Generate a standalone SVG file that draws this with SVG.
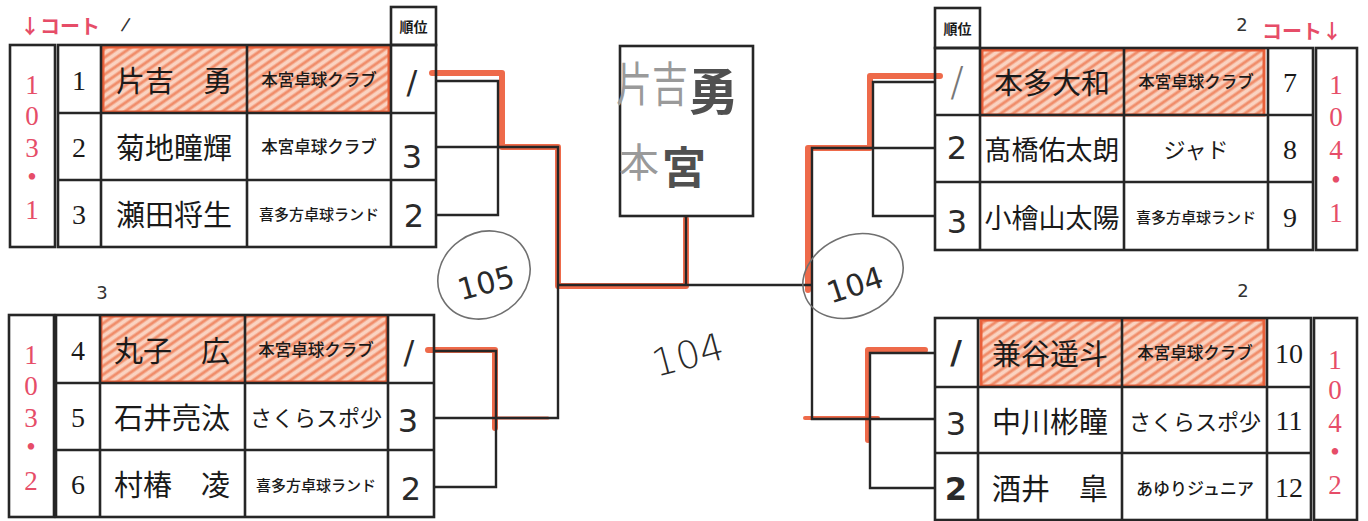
<svg xmlns="http://www.w3.org/2000/svg" width="1368" height="521" viewBox="0 0 1368 521">
<defs>
<pattern id="hatch" width="7" height="7" patternUnits="userSpaceOnUse" patternTransform="rotate(-35)">
<rect width="7" height="7" fill="#fad3c1"/>
<line x1="0" y1="2" x2="7" y2="2" stroke="#f08d6a" stroke-width="3"/>
</pattern>
<style>
.grid{fill:none;stroke:#262626;stroke-width:2.6}
.hl{fill:url(#hatch);stroke:#e9603a;stroke-width:3}
.red{fill:none;stroke:#ec5a36;stroke-width:6;stroke-linecap:round;stroke-linejoin:round;opacity:.9}
.blk{fill:none;stroke:#262626;stroke-width:2.4}
.court{font-family:"Liberation Serif",serif;font-size:27px;fill:#e64d68;text-anchor:middle;dominant-baseline:central}
.num{font-family:"Liberation Serif",serif;font-size:28px;fill:#1a1a1a;text-anchor:middle;dominant-baseline:central}
.name{font-family:"Noto Sans CJK JP",sans-serif;font-size:29px;fill:#1a1a1a;text-anchor:middle;dominant-baseline:central}
.club{font-family:"Noto Sans CJK JP",sans-serif;font-size:16.5px;font-weight:500;fill:#1a1a1a;text-anchor:middle;dominant-baseline:central}
.club2{font-family:"Noto Sans CJK JP",sans-serif;font-size:22px;fill:#1a1a1a;text-anchor:middle;dominant-baseline:central}
.hdr{font-family:"Noto Sans CJK JP",sans-serif;font-size:14px;font-weight:bold;fill:#1a1a1a;text-anchor:middle;dominant-baseline:central}
.hand{font-family:"DejaVu Sans",sans-serif;font-size:32px;fill:#2a2a2a;text-anchor:middle;dominant-baseline:central}
.small{font-family:"DejaVu Sans",sans-serif;font-size:18px;fill:#333;text-anchor:middle;dominant-baseline:central}
.lbl{font-family:"Noto Sans CJK JP",sans-serif;font-size:20px;font-weight:bold;fill:#e64d68;dominant-baseline:central}
.ring{fill:none;stroke:#707070;stroke-width:1.6}
</style>
</defs>
<rect width="1368" height="521" fill="#ffffff"/>

<g id="connectors">
<path class="red" d="M432,73 H502 V147 H558 V286 H686 V219"/>
<path class="red" d="M428,350 H495 V428"/>
<path class="red" d="M496,418 H548" style="stroke-width:3"/>
<path class="red" d="M940,76 H870 V148 H808 V290"/>
<path class="red" d="M925,350 H868 V440"/>
<path class="red" d="M805,418 H878" style="stroke-width:4"/>
<path class="blk" d="M436,81 H498 V215 H436"/>
<path class="blk" d="M436,147 H558 V418 H434"/>
<path class="blk" d="M434,351 H496 V487 H434"/>
<path class="blk" d="M558,285 H812"/>
<path class="blk" d="M686,217 V285"/>
<path class="blk" d="M935,82 H873 V216 H935"/>
<path class="blk" d="M935,148 H812 V419 H935"/>
<path class="blk" d="M935,353 H870 V488 H935"/>
</g>

<g id="block-103-1">
<text class="lbl" x="20" y="25">↓コート</text>
<text class="small" x="126" y="24" transform="rotate(15 126 24)">/</text>
<rect class="grid" x="391" y="7" width="45" height="38"/>
<text class="hdr" x="413.5" y="26">順位</text>
<rect class="hl" x="103" y="47" width="286" height="65"/>
<rect class="grid" x="10" y="45" width="45" height="202"/>
<rect class="grid" x="58" y="45" width="378" height="202"/>
<path class="grid" d="M101,45 V247 M247,45 V247 M391,45 V247 M58,113 H436 M58,180 H436"/>
<text class="court" x="32" y="85">1</text>
<text class="court" x="32" y="116">0</text>
<text class="court" x="32" y="148">3</text>
<text class="court" x="32" y="177">•</text>
<text class="court" x="32" y="210">1</text>
<text class="num" x="79" y="80">1</text>
<text class="num" x="79" y="147">2</text>
<text class="num" x="79" y="214">3</text>
<text class="name" x="174" y="79">片吉　勇</text>
<text class="name" x="174" y="146">菊地瞳輝</text>
<text class="name" x="174" y="213">瀬田将生</text>
<text class="club" x="319" y="79">本宮卓球クラブ</text>
<text class="club" x="319" y="146">本宮卓球クラブ</text>
<text class="club" x="319" y="213" style="font-size:15px">喜多方卓球ランド</text>
<text class="hand" x="412" y="82">/</text>
<text class="hand" x="412" y="157">3</text>
<text class="hand" x="414" y="216">2</text>
</g>

<g id="block-103-2">
<text class="small" x="102" y="292">3</text>
<rect class="hl" x="101" y="316" width="286" height="66"/>
<rect class="grid" x="9" y="315" width="45" height="202"/>
<rect class="grid" x="56" y="315" width="378" height="202"/>
<path class="grid" d="M100,315 V517 M245,315 V517 M388,315 V517 M56,383 H434 M56,450 H434"/>
<text class="court" x="31" y="355">1</text>
<text class="court" x="31" y="386">0</text>
<text class="court" x="31" y="418">3</text>
<text class="court" x="31" y="447">•</text>
<text class="court" x="31" y="481">2</text>
<text class="num" x="78" y="350">4</text>
<text class="num" x="78" y="417">5</text>
<text class="num" x="78" y="484">6</text>
<text class="name" x="172" y="349">丸子　広</text>
<text class="name" x="172" y="416">石井亮汰</text>
<text class="name" x="172" y="483">村椿　凌</text>
<text class="club" x="316" y="349">本宮卓球クラブ</text>
<text class="club2" x="316" y="416">さくらスポ少</text>
<text class="club" x="316" y="484" style="font-size:15px">喜多方卓球ランド</text>
<text class="hand" x="409" y="352">/</text>
<text class="hand" x="408" y="421">3</text>
<text class="hand" x="411" y="489">2</text>
</g>

<g id="winner">
<rect class="grid" x="620" y="46" width="133" height="170"/>
<text x="652" y="80" style="font-family:'Noto Sans CJK JP',sans-serif;font-size:36px;fill:#9a9a9a;text-anchor:middle;dominant-baseline:central" transform="scale(1 1.3) translate(0 -18)">片吉</text>
<text x="713" y="88" style="font-family:'Noto Sans CJK JP',sans-serif;font-size:50px;font-weight:bold;fill:#505050;text-anchor:middle;dominant-baseline:central">勇</text>
<text x="639" y="160" style="font-family:'Noto Sans CJK JP',sans-serif;font-size:40px;fill:#9a9a9a;text-anchor:middle;dominant-baseline:central">本</text>
<text x="684" y="165" style="font-family:'Noto Sans CJK JP',sans-serif;font-size:44px;font-weight:bold;fill:#505050;text-anchor:middle;dominant-baseline:central">宮</text>
</g>

<g id="match-105">
<ellipse class="ring" cx="484" cy="275" rx="48" ry="42" transform="rotate(-35 484 275)"/>
<text class="hand" x="486" y="283" transform="rotate(-15 486 283)" style="font-size:30px">105</text>
</g>

<g id="match-104-final">
<text class="hand" x="688" y="355" transform="rotate(-15 688 355)" style="font-size:38px;font-weight:200">104</text>
</g>

<g id="match-104">
<ellipse class="ring" cx="853" cy="276" rx="52" ry="40" transform="rotate(-25 853 276)"/>
<text class="hand" x="855" y="285" transform="rotate(-18 855 285)" style="font-size:30px">104</text>
</g>

<g id="block-104-1">
<text class="small" x="1242" y="24">2</text>
<text class="lbl" x="1262" y="30">コート↓</text>
<rect class="grid" x="935" y="8" width="45" height="40"/>
<text class="hdr" x="957.5" y="28">順位</text>
<rect class="hl" x="982" y="50" width="282" height="65"/>
<rect class="grid" x="935" y="48" width="378" height="202"/>
<rect class="grid" x="1316" y="48" width="41" height="202"/>
<path class="grid" d="M980,48 V250 M1124,48 V250 M1268,48 V250 M935,115 H1313 M935,182 H1313"/>
<text class="court" x="1336" y="85">1</text>
<text class="court" x="1336" y="117">0</text>
<text class="court" x="1336" y="150">4</text>
<text class="court" x="1336" y="180">•</text>
<text class="court" x="1336" y="213">1</text>
<text class="num" x="1290" y="82">7</text>
<text class="num" x="1290" y="149">8</text>
<text class="num" x="1290" y="217">9</text>
<text class="name" x="1052" y="81">本多大和</text>
<text class="name" x="1052" y="148" style="font-size:27px">髙橋佑太朗</text>
<text class="name" x="1052" y="216" style="font-size:27px">小檜山太陽</text>
<text class="club" x="1196" y="81">本宮卓球クラブ</text>
<text class="club2" x="1196" y="148">ジャド</text>
<text class="club" x="1196" y="216" style="font-size:15px">喜多方卓球ランド</text>
<text class="hand" x="957" y="82" style="font-size:40px;fill:#777;font-weight:200">/</text>
<text class="hand" x="957" y="148">2</text>
<text class="hand" x="957" y="222">3</text>
</g>

<g id="block-104-2">
<text class="small" x="1243" y="290">2</text>
<rect class="hl" x="981" y="320" width="283" height="66"/>
<rect class="grid" x="935" y="318" width="376" height="202"/>
<rect class="grid" x="1314" y="318" width="43" height="202"/>
<path class="grid" d="M978,318 V520 M1122,318 V520 M1267,318 V520 M935,387 H1311 M935,453 H1311"/>
<text class="court" x="1335" y="360">1</text>
<text class="court" x="1335" y="390">0</text>
<text class="court" x="1335" y="423">4</text>
<text class="court" x="1335" y="452">•</text>
<text class="court" x="1335" y="485">2</text>
<text class="num" x="1289" y="353">10</text>
<text class="num" x="1289" y="420">11</text>
<text class="num" x="1289" y="487">12</text>
<text class="name" x="1050" y="352">兼谷遥斗</text>
<text class="name" x="1050" y="420">中川彬瞳</text>
<text class="name" x="1050" y="487">酒井　皐</text>
<text class="club" x="1195" y="352">本宮卓球クラブ</text>
<text class="club2" x="1195" y="420">さくらスポ少</text>
<text class="club" x="1195" y="487" style="font-size:17px">あゆりジュニア</text>
<text class="hand" x="956" y="352" style="font-weight:bold">/</text>
<text class="hand" x="956" y="424">3</text>
<text class="hand" x="956" y="489" style="font-weight:bold">2</text>
</g>
</svg>
